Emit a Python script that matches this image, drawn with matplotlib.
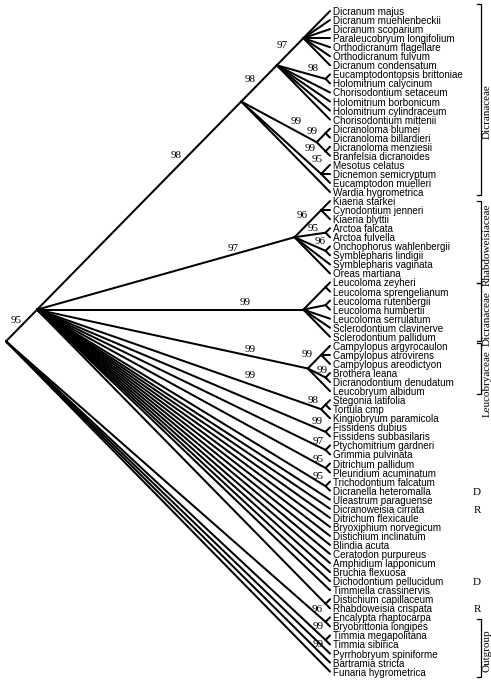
import matplotlib
matplotlib.use("Agg")
import matplotlib.pyplot as plt

# ---------------- data ----------------
taxa = [
    "Dicranum majus", "Dicranum muehlenbeckii", "Dicranum scoparium", "Paraleucobryum longifolium",
    "Orthodicranum flagellare", "Orthodicranum fulvum", "Dicranum condensatum",
    "Eucamptodontopsis brittoniae", "Holomitrium calycinum", "Chorisodontium setaceum",
    "Holomitrium borbonicum", "Holomitrium cylindraceum", "Chorisodontium mittenii",
    "Dicranoloma blumei", "Dicranoloma billardieri", "Dicranoloma menziesii", "Branfelsia dicranoides",
    "Mesotus celatus", "Dicnemon semicryptum", "Eucamptodon muelleri", "Wardia hygrometrica",
    "Kiaeria starkei", "Cynodontium jenneri", "Kiaeria blyttii", "Arctoa falcata", "Arctoa fulvella",
    "Onchophorus wahlenbergii", "Symblepharis lindigii", "Symblepharis vaginata", "Oreas martiana",
    "Leucoloma zeyheri", "Leucoloma sprengelianum", "Leucoloma rutenbergii", "Leucoloma humbertii",
    "Leucoloma serrulatum", "Sclerodontium clavinerve", "Sclerodontium pallidum",
    "Campylopus argyrocaulon", "Campylopus atrovirens", "Campylopus areodictyon", "Brothera leana",
    "Dicranodontium denudatum", "Leucobryum albidum", "Stegonia latifolia", "Tortula cmp",
    "Kingiobryum paramicola", "Fissidens dubius", "Fissidens subbasilaris", "Ptychomitrium gardneri",
    "Grimmia pulvinata", "Ditrichum pallidum", "Pleuridium acuminatum", "Trichodontium falcatum",
    "Dicranella heteromalla", "Uleastrum paraguense", "Dicranoweisia cirrata", "Ditrichum flexicaule",
    "Bryoxiphium norvegicum", "Distichium inclinatum", "Blindia acuta", "Ceratodon purpureus",
    "Amphidium lapponicum", "Bruchia flexuosa", "Dichodontium pellucidum", "Timmiella crassinervis",
    "Distichium capillaceum", "Rhabdoweisia crispata", "Encalypta rhaptocarpa", "Bryobrittonia longipes",
    "Timmia megapolitana", "Timmia sibirica", "Pyrrhobryum spiniforme", "Bartramia stricta",
    "Funaria hygrometrica",
]

# topology with support values (leaf order matches `taxa`)
tree_newick = (
    "((((("
    "Dicranum majus,Dicranum muehlenbeckii,Dicranum scoparium,Paraleucobryum longifolium,"
    "Orthodicranum flagellare,Orthodicranum fulvum,Dicranum condensatum)97,"
    "(Eucamptodontopsis brittoniae,Holomitrium calycinum)98,Chorisodontium setaceum,"
    "Holomitrium borbonicum,Holomitrium cylindraceum,Chorisodontium mittenii)98,"
    "((Dicranoloma blumei,Dicranoloma billardieri)99,(Dicranoloma menziesii,Branfelsia dicranoides)99)99,"
    "(Mesotus celatus,Dicnemon semicryptum,Eucamptodon muelleri)95,Wardia hygrometrica)98,"
    "((Kiaeria starkei,Cynodontium jenneri,Kiaeria blyttii)96,(Arctoa falcata,Arctoa fulvella)95,"
    "(Onchophorus wahlenbergii,Symblepharis lindigii)96,Symblepharis vaginata,Oreas martiana)97,"
    "((Leucoloma zeyheri,Leucoloma sprengelianum),(Leucoloma rutenbergii,Leucoloma humbertii),"
    "Leucoloma serrulatum,Sclerodontium clavinerve,Sclerodontium pallidum)99,"
    "((Campylopus argyrocaulon,Campylopus atrovirens,Campylopus areodictyon)99,"
    "(Brothera leana,Dicranodontium denudatum)99,Leucobryum albidum)99,"
    "((Stegonia latifolia,Tortula cmp)98,Kingiobryum paramicola)99,"
    "(Fissidens dubius,Fissidens subbasilaris)99,(Ptychomitrium gardneri,Grimmia pulvinata)97,"
    "(Ditrichum pallidum,Pleuridium acuminatum)95,(Trichodontium falcatum,Dicranella heteromalla)95,"
    "Uleastrum paraguense,Dicranoweisia cirrata,Ditrichum flexicaule,Bryoxiphium norvegicum,"
    "Distichium inclinatum,Blindia acuta,Ceratodon purpureus,Amphidium lapponicum,Bruchia flexuosa,"
    "Dichodontium pellucidum,Timmiella crassinervis,(Distichium capillaceum,Rhabdoweisia crispata)96)95,"
    "(Encalypta rhaptocarpa,Bryobrittonia longipes)99,(Timmia megapolitana,Timmia sibirica)99,"
    "Pyrrhobryum spiniforme,Bartramia stricta,Funaria hygrometrica)"
)

family_names = ["Dicranaceae", "Rhabdoweisiaceae", "Dicranaceae", "Leucobryaceae", "Outgroup"]
family_first = ["Dicranum majus", "Kiaeria starkei", "Leucoloma zeyheri",
                "Campylopus argyrocaulon", "Encalypta rhaptocarpa"]
family_last = ["Wardia hygrometrica", "Oreas martiana", "Sclerodontium pallidum",
               "Leucobryum albidum", "Funaria hygrometrica"]

marker_taxa = ["Dicranella heteromalla", "Dicranoweisia cirrata",
               "Dichodontium pellucidum", "Rhabdoweisia crispata"]
marker_letters = ["D", "R", "D", "R"]

# ---------------- style / placement ----------------
W, H, DPI = 491, 684, 100
TIP_PX, ROOT_PX = 330.0, 6.0
Y0_PX, DY_PX = 11.0, 9.05
LW = 1.45
SANS = "Liberation Sans"
SERIF = "Liberation Serif"

# support label offsets from node (pixels, +y = down)
label_offsets_px = {
    ("Dicranum majus", "Rhabdoweisia crispata"): (-20.5, 10.5),
    ("Dicranum majus", "Wardia hygrometrica"): (-65, 53.5),
    ("Dicranum majus", "Chorisodontium mittenii"): (-27, 14),
    ("Dicranum majus", "Dicranum condensatum"): (-21, 7),
    ("Eucamptodontopsis brittoniae", "Holomitrium calycinum"): (-12.5, -10.5),
    ("Dicranoloma blumei", "Branfelsia dicranoides"): (-21, -21),
    ("Dicranoloma blumei", "Dicranoloma billardieri"): (-13.5, -1.5),
    ("Dicranoloma menziesii", "Branfelsia dicranoides"): (-15, -3),
    ("Mesotus celatus", "Eucamptodon muelleri"): (-4, -14),
    ("Kiaeria starkei", "Oreas martiana"): (-61.5, 11),
    ("Kiaeria starkei", "Kiaeria blyttii"): (-19, 5.5),
    ("Arctoa falcata", "Arctoa fulvella"): (-12, -4.7),
    ("Onchophorus wahlenbergii", "Symblepharis lindigii"): (-5.6, -9.4),
    ("Leucoloma zeyheri", "Sclerodontium pallidum"): (-58, -7.6),
    ("Campylopus argyrocaulon", "Leucobryum albidum"): (-58, -18.5),
    ("Campylopus argyrocaulon", "Campylopus areodictyon"): (-13.6, 0),
    ("Brothera leana", "Dicranodontium denudatum"): (-3.6, -7.5),
    ("Stegonia latifolia", "Kingiobryum paramicola"): (-71, -34),
    ("Stegonia latifolia", "Tortula cmp"): (-12.6, -4),
    ("Fissidens dubius", "Fissidens subbasilaris"): (-8.6, -10.4),
    ("Ptychomitrium gardneri", "Grimmia pulvinata"): (-7.6, -8.5),
    ("Ditrichum pallidum", "Pleuridium acuminatum"): (-7.6, -9),
    ("Trichodontium falcatum", "Dicranella heteromalla"): (-7.6, -10),
    ("Distichium capillaceum", "Rhabdoweisia crispata"): (-8.6, 6),
    ("Encalypta rhaptocarpa", "Bryobrittonia longipes"): (-7, 5),
    ("Timmia megapolitana", "Timmia sibirica"): (-7, 4.5),
}
# bracket padding (px above first leaf, px below last leaf) and label centres (px)
bracket_pad_px = [(7, 3), (0, 10), (0, 4), (3, 3), (-2, 5)]
family_text_y_px = [112, 245, 319, 384, 651]


# ---------------- parse tree ----------------
def parse(s):
    pos = 0

    def node():
        nonlocal pos
        if s[pos] == "(":
            pos += 1
            kids = [node()]
            while s[pos] == ",":
                pos += 1
                kids.append(node())
            assert s[pos] == ")"
            pos += 1
            sup = ""
            while pos < len(s) and s[pos].isdigit():
                sup += s[pos]
                pos += 1
            return {"children": kids, "support": sup}
        start = pos
        while s[pos] not in ",()":
            pos += 1
        return {"name": s[start:pos].strip()}

    return node()


root = parse(tree_newick)
index = {n: i for i, n in enumerate(taxa)}

# data units: y = leaf index, x = -(half span in leaves); tips at x=0
SX = (TIP_PX - ROOT_PX) / ((len(taxa) - 1) / 2.0)


def layout(nd):
    if "name" in nd:
        i = index[nd["name"]]
        nd["lo"], nd["hi"] = i, i
        nd["first"], nd["last"] = nd["name"], nd["name"]
    else:
        for c in nd["children"]:
            layout(c)
        nd["lo"] = nd["children"][0]["lo"]
        nd["hi"] = nd["children"][-1]["hi"]
        nd["first"] = nd["children"][0]["first"]
        nd["last"] = nd["children"][-1]["last"]
    nd["y"] = (nd["lo"] + nd["hi"]) / 2.0
    nd["x"] = -(nd["hi"] - nd["lo"]) / 2.0


layout(root)

fig = plt.figure(figsize=(W / DPI, H / DPI), dpi=DPI)
ax = fig.add_axes([0, 0, 1, 1])
ax.set_xlim(-TIP_PX / SX, (W - TIP_PX) / SX)
ax.set_ylim((H - Y0_PX) / DY_PX, -Y0_PX / DY_PX)
ax.axis("off")


def px_to_x(p):
    return (p - TIP_PX) / SX


def px_to_y(p):
    return (p - Y0_PX) / DY_PX


def draw(nd):
    if "children" not in nd:
        return
    for c in nd["children"]:
        ax.plot([nd["x"], c["x"]], [nd["y"], c["y"]], color="black", lw=LW,
                solid_capstyle="round", solid_joinstyle="round")
        draw(c)
    if nd["support"]:
        dx, dy = label_offsets_px.get((nd["first"], nd["last"]), (-10, -8))
        ax.annotate(nd["support"], (nd["x"], nd["y"]), xytext=(dx, -dy),
                    textcoords="offset pixels", ha="center", va="center",
                    fontsize=8, family=SERIF)


draw(root)

for i, name in enumerate(taxa):
    ax.annotate(name, (0, i), xytext=(3, -1), textcoords="offset pixels",
                ha="left", va="center", fontsize=7.1, family=SANS)

# family brackets
BR_X = px_to_x(480.5)
TICK = 4.0 / SX
for fam, a, b, (pt, pb), ty in zip(family_names, family_first, family_last,
                                   bracket_pad_px, family_text_y_px):
    y_a = index[a] - pt / DY_PX
    y_b = index[b] + pb / DY_PX
    ax.plot([BR_X - TICK, BR_X, BR_X, BR_X - TICK], [y_a, y_a, y_b, y_b],
            color="black", lw=0.9)
    ax.text(px_to_x(487.5), px_to_y(ty), fam, rotation=90,
            ha="center", va="center", fontsize=8, family=SERIF)

for t, letter in zip(marker_taxa, marker_letters):
    ax.text(px_to_x(477), index[t] + 1.5 / DY_PX, letter, ha="center", va="center",
            fontsize=8, family=SERIF)

fig.savefig("out.png", dpi=DPI, facecolor="white")
